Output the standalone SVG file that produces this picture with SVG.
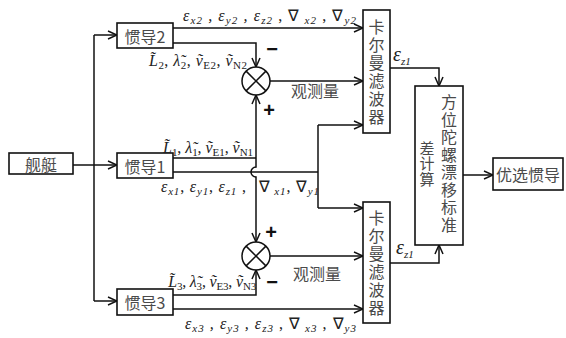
<svg xmlns="http://www.w3.org/2000/svg" width="566" height="338" viewBox="0 0 566 338">
<style>
.box{fill:#fff;stroke:#111;stroke-width:1.6}
.ln{fill:none;stroke:#111;stroke-width:1.5}
.cn{font-family:"Noto Sans CJK SC","Noto Sans CJK JP",sans-serif;fill:#4a4a4a;font-size:16px}
.vt{writing-mode:vertical-rl;text-orientation:upright;text-anchor:start}
.m{font-family:"Liberation Serif",serif;font-style:italic;font-size:16px;fill:#222}
.s{font-size:11px}
.u{font-style:normal}
.big{font-size:20px}
.sg{font-family:"Liberation Sans",sans-serif;font-size:20px;fill:#111;font-weight:bold}
</style>
<defs>
<marker id="ar" viewBox="0 0 10 10" refX="10" refY="5" markerWidth="10" markerHeight="10" markerUnits="userSpaceOnUse" orient="auto">
<path d="M1,1 L10,5 L1,9" fill="none" stroke="#111" stroke-width="1.5"/>
</marker>
</defs>
<rect width="566" height="338" fill="#fff"/>

<g id="connectors">
<path class="ln" d="M73,165 H117" marker-end="url(#ar)"/>
<path class="ln" d="M94,35 V301"/>
<path class="ln" d="M94,35 H117" marker-end="url(#ar)"/>
<path class="ln" d="M94,301 H117" marker-end="url(#ar)"/>
<path class="ln" d="M173,28 H363" marker-end="url(#ar)"/>
<path class="ln" d="M173,43 H256 V67" marker-end="url(#ar)"/>
<path class="ln" d="M270,81 H363" marker-end="url(#ar)"/>
<path class="ln" d="M173,158 H256"/>
<path class="ln" d="M256,158 V95" marker-end="url(#ar)"/>
<path class="ln" d="M256,158 V167 A5,5 0 0 0 256,177 V242" marker-end="url(#ar)"/>
<path class="ln" d="M173,172 H318"/>
<path class="ln" d="M318,125 V208"/>
<path class="ln" d="M318,125 H363" marker-end="url(#ar)"/>
<path class="ln" d="M318,208 H363" marker-end="url(#ar)"/>
<path class="ln" d="M173,295 H256 V270" marker-end="url(#ar)"/>
<path class="ln" d="M270,256 H363" marker-end="url(#ar)"/>
<path class="ln" d="M173,309 H363" marker-end="url(#ar)"/>
<path class="ln" d="M390,68 H439 V86" marker-end="url(#ar)"/>
<path class="ln" d="M390,263 H439 V245" marker-end="url(#ar)"/>
<path class="ln" d="M463,175 H493" marker-end="url(#ar)"/>
</g>

<g id="jianting">
<rect class="box" x="9" y="153" width="64" height="21"/>
<text class="cn" x="41" y="164" text-anchor="middle" dominant-baseline="central">舰艇</text>
</g>
<g id="gd2">
<rect class="box" x="117" y="23" width="56" height="25"/>
<text class="cn" x="145" y="35.5" text-anchor="middle" dominant-baseline="central">惯导2</text>
</g>
<g id="gd1">
<rect class="box" x="117" y="153" width="56" height="25"/>
<text class="cn" x="145" y="165.5" text-anchor="middle" dominant-baseline="central">惯导1</text>
</g>
<g id="gd3">
<rect class="box" x="117" y="289" width="56" height="26"/>
<text class="cn" x="145" y="302" text-anchor="middle" dominant-baseline="central">惯导3</text>
</g>

<g id="sum2">
<circle class="ln" cx="256" cy="81" r="14" fill="#fff"/>
<path class="ln" d="M246.1,71.1 L265.9,90.9 M265.9,71.1 L246.1,90.9"/>
</g>
<g id="sum3">
<circle class="ln" cx="256" cy="256" r="14" fill="#fff"/>
<path class="ln" d="M246.1,246.1 L265.9,265.9 M265.9,246.1 L246.1,265.9"/>
</g>

<g id="kalman1">
<rect class="box" x="363" y="10" width="27" height="123"/>
<text class="cn vt" x="376.5" y="19" letter-spacing="2">卡尔曼滤波器</text>
</g>
<g id="kalman2">
<rect class="box" x="363" y="202" width="27" height="121"/>
<text class="cn vt" x="376.5" y="210" letter-spacing="2">卡尔曼滤波器</text>
</g>
<g id="azimuth">
<rect class="box" x="415" y="86" width="48" height="159"/>
<text class="cn vt" x="449" y="94" letter-spacing="1.5">方位陀螺漂移标准</text>
<text class="cn vt" x="427" y="140.5" letter-spacing="0.5" style="font-size:15px">差计算</text>
</g>
<g id="youxuan">
<rect class="box" x="493" y="158" width="70" height="32"/>
<text class="cn" x="528" y="174" text-anchor="middle" dominant-baseline="central">优选惯导</text>
</g>

<g id="labels">
<text class="m" x="183" y="21" textLength="173" lengthAdjust="spacing">ε<tspan class="s" dy="3">x2</tspan><tspan dy="-3"> , ε</tspan><tspan class="s" dy="3">y2</tspan><tspan dy="-3"> , ε</tspan><tspan class="s" dy="3">z2</tspan><tspan dy="-3" class="u"> , ∇</tspan><tspan class="s" dy="3"> x2</tspan><tspan dy="-3" class="u"> , ∇</tspan><tspan class="s" dy="3">y2</tspan></text>
<text class="m" x="149" y="66" textLength="98" lengthAdjust="spacing">L̃<tspan class="s u" dy="3">2</tspan><tspan dy="-3" class="u">, </tspan>λ̃<tspan class="s u" dy="3">2</tspan><tspan dy="-3" class="u">, </tspan>ṽ<tspan class="s u" dy="3">E2</tspan><tspan dy="-3" class="u">, </tspan>ṽ<tspan class="s u" dy="3">N2</tspan></text>
<text class="m" x="163" y="153" textLength="90" lengthAdjust="spacing">L̃<tspan class="s u" dy="3">1</tspan><tspan dy="-3" class="u">, </tspan>λ̃<tspan class="s u" dy="3">1</tspan><tspan dy="-3" class="u">, </tspan>ṽ<tspan class="s u" dy="3">E1</tspan><tspan dy="-3" class="u">, </tspan>ṽ<tspan class="s u" dy="3">N1</tspan></text>
<text class="m" x="161" y="192" textLength="85" lengthAdjust="spacing">ε<tspan class="s" dy="3">x1</tspan><tspan dy="-3" class="u">, </tspan>ε<tspan class="s" dy="3">y1</tspan><tspan dy="-3" class="u">, </tspan>ε<tspan class="s" dy="3">z1</tspan><tspan dy="-3" class="u"> ,</tspan></text>
<text class="m" x="259" y="192" textLength="60" lengthAdjust="spacing"><tspan class="u">∇</tspan><tspan class="s" dy="3"> x1</tspan><tspan dy="-3" class="u">, ∇</tspan><tspan class="s" dy="3">y1</tspan></text>
<text class="m" x="168" y="287" textLength="88" lengthAdjust="spacing">L̃<tspan class="s u" dy="3">3</tspan><tspan dy="-3" class="u">, </tspan>λ̃<tspan class="s u" dy="3">3</tspan><tspan dy="-3" class="u">, </tspan>ṽ<tspan class="s u" dy="3">E3</tspan><tspan dy="-3" class="u">, </tspan>ṽ<tspan class="s u" dy="3">N3</tspan></text>
<text class="m" x="185" y="329" textLength="171" lengthAdjust="spacing">ε<tspan class="s" dy="3">x3</tspan><tspan dy="-3"> , ε</tspan><tspan class="s" dy="3">y3</tspan><tspan dy="-3"> , ε</tspan><tspan class="s" dy="3">z3</tspan><tspan dy="-3" class="u"> , ∇</tspan><tspan class="s" dy="3"> x3</tspan><tspan dy="-3" class="u"> , ∇</tspan><tspan class="s" dy="3">y3</tspan></text>
<text class="m big" x="393" y="61">ε<tspan class="s" dy="4">z1</tspan></text>
<text class="m big" x="396" y="254">ε<tspan class="s" dy="4">z1</tspan></text>
<text class="cn" x="315" y="90" text-anchor="middle" dominant-baseline="central">观测量</text>
<text class="cn" x="317" y="273" text-anchor="middle" dominant-baseline="central">观测量</text>
<text class="sg" x="272" y="56" text-anchor="middle">−</text>
<text class="sg" x="269" y="117" text-anchor="middle">+</text>
<text class="sg" x="271" y="239" text-anchor="middle">+</text>
<text class="sg" x="272" y="289" text-anchor="middle">−</text>
</g>
</svg>
